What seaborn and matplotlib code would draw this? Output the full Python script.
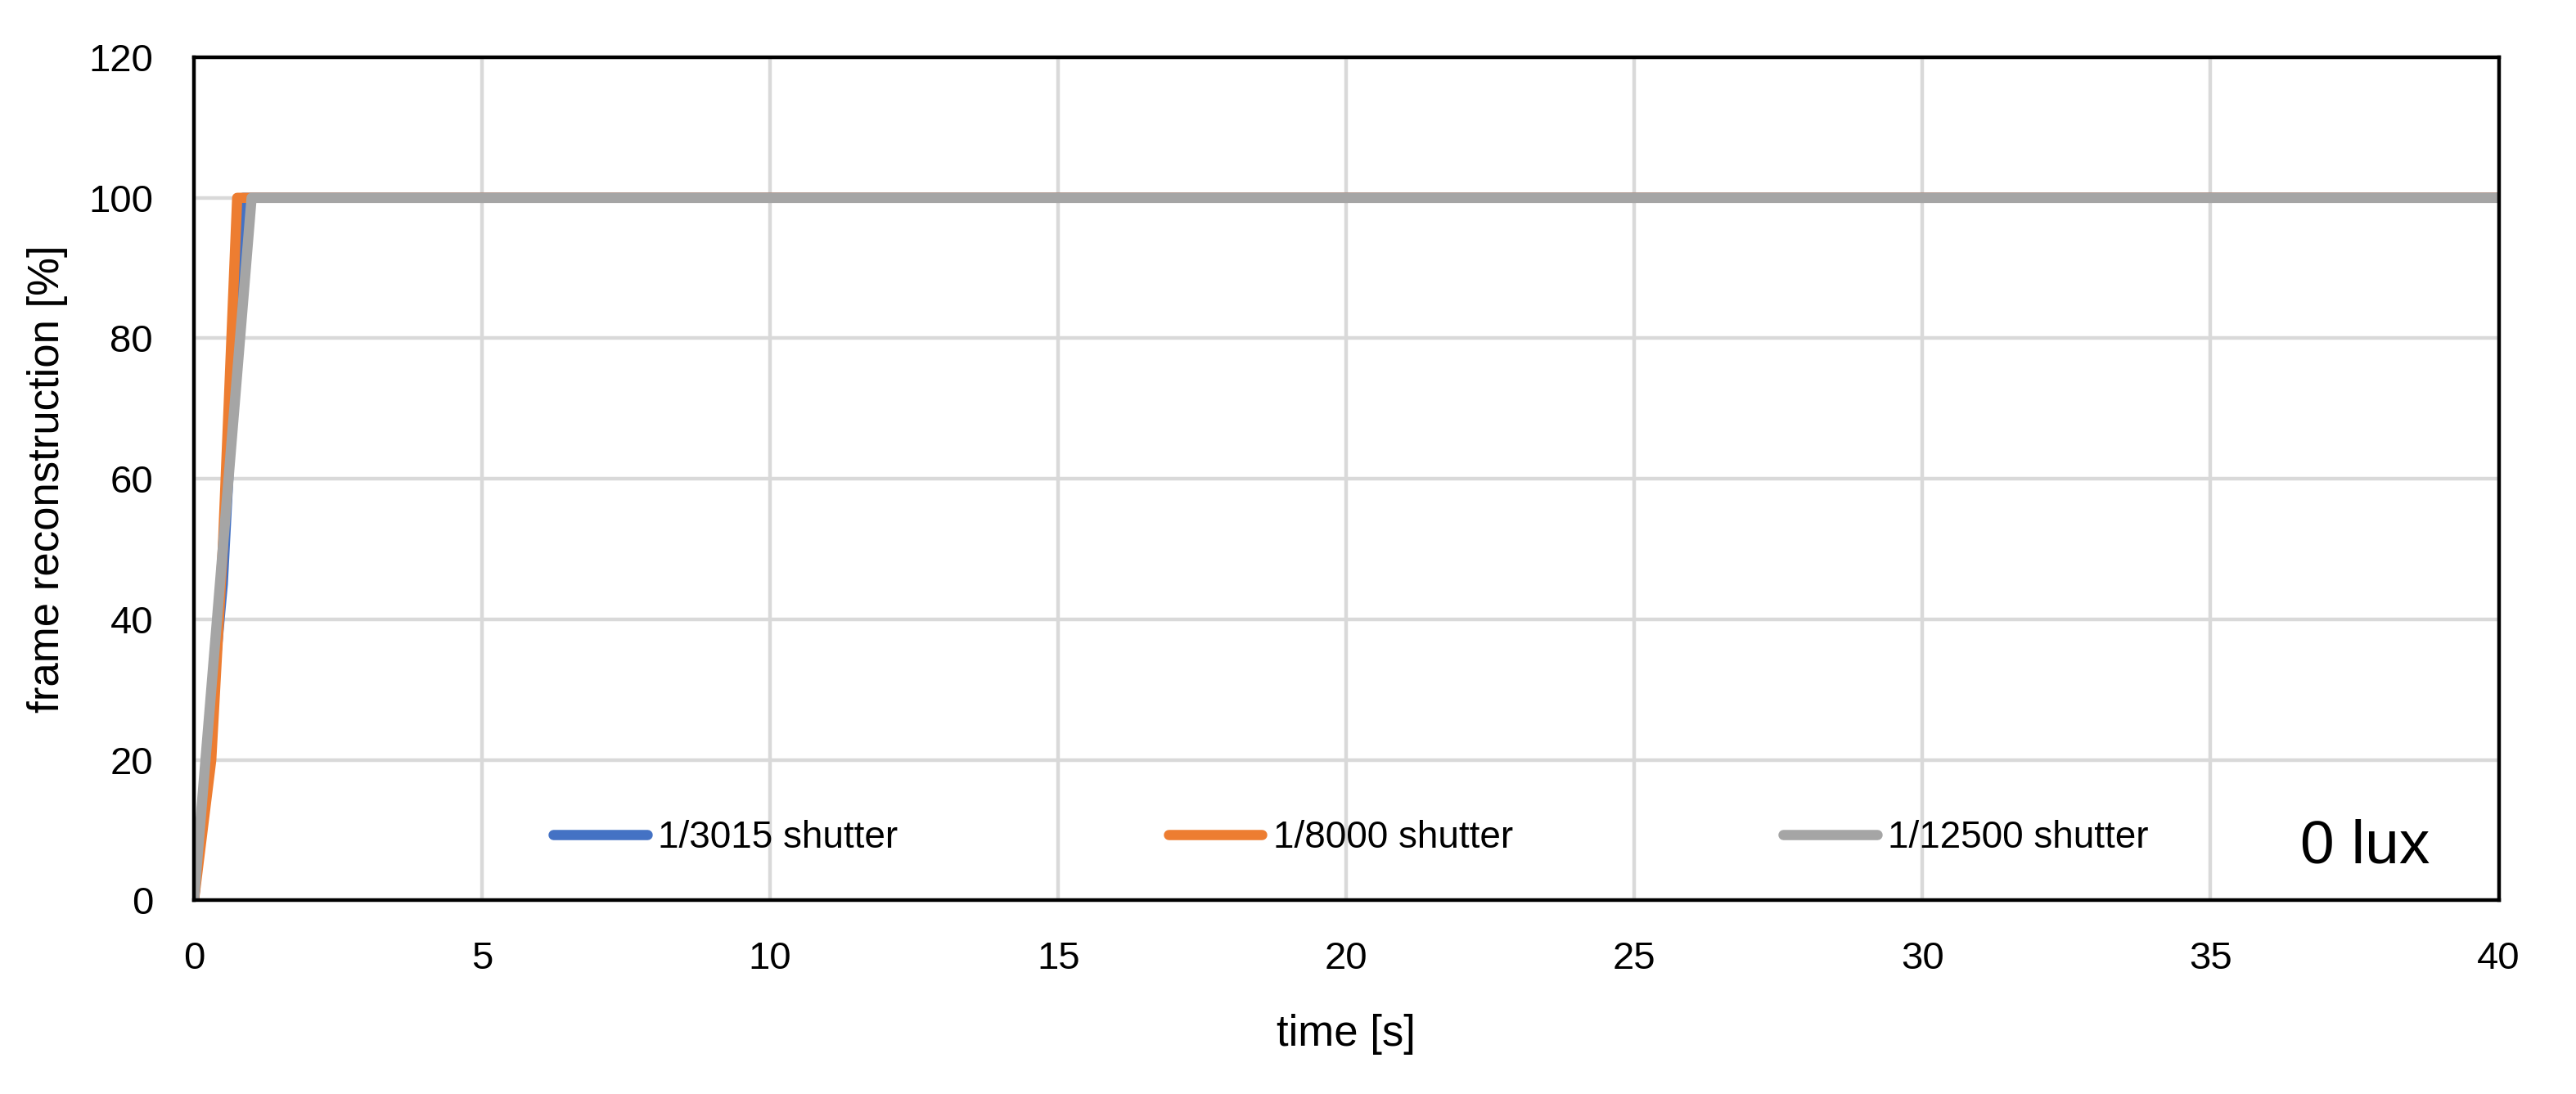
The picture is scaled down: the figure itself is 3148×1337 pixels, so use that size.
import pandas as pd
import matplotlib
matplotlib.use('Agg')
import matplotlib.pyplot as plt
import seaborn as sns

sns.set_style('white')
plt.rcParams['font.family'] = ['Liberation Sans', 'DejaVu Sans']
plt.rcParams['text.color'] = 'black'
plt.rcParams['axes.labelcolor'] = 'black'
plt.rcParams['xtick.color'] = 'black'
plt.rcParams['ytick.color'] = 'black'

# data
series_names = ['1/3015 shutter', '1/8000 shutter', '1/12500 shutter']
time_3015 = [0, 0.5, 0.85, 40]
rec_3015 = [0, 45, 100, 100]
time_8000 = [0, 0.3, 0.5, 0.75, 40]
rec_8000 = [0, 20, 50, 100, 100]
time_12500 = [0, 1.0, 40]
rec_12500 = [0, 100, 100]

colors = ['#4472C4', '#ED7D31', '#A5A5A5']

frames = []
for name, t, v in zip(series_names,
                      [time_3015, time_8000, time_12500],
                      [rec_3015, rec_8000, rec_12500]):
    frames.append(pd.DataFrame({'time': t, 'rec': v, 'series': name}))
df = pd.concat(frames, ignore_index=True)

fig = plt.figure(figsize=(15.74, 6.685), dpi=200)
ax = fig.add_axes([0.0753, 0.177, 0.8947, 0.7706])

sns.lineplot(data=df, x='time', y='rec', hue='series', hue_order=series_names,
             palette=colors, estimator=None, sort=False, linewidth=4.5, ax=ax)

ax.set_xlim(0, 40)
ax.set_ylim(0, 120)
ax.set_xticks(range(0, 41, 5))
ax.set_yticks(range(0, 121, 20))
ax.grid(True, color='#d9d9d9', linewidth=1.6)
ax.set_axisbelow(True)
for s in ax.spines.values():
    s.set_color('black')
    s.set_linewidth(1.6)
ax.tick_params(axis='both', length=0, labelsize=17)
ax.tick_params(axis='y', pad=18)
ax.tick_params(axis='x', pad=18)

ax.set_xlabel('time [s]', fontsize=19, labelpad=16)
ax.set_ylabel('frame reconstruction [%]', fontsize=19, labelpad=9)

leg = ax.legend(loc='center', bbox_to_anchor=(0.502, 0.074), ncol=3, frameon=False,
                fontsize=16.5, handlelength=2.5, handletextpad=0.3, columnspacing=7.2)
for line in leg.get_lines():
    line.set_linewidth(4.5)

ax.text(0.97, 0.063, '0 lux', transform=ax.transAxes, ha='right', va='center',
        fontsize=27)

fig.savefig('out.png', dpi=200)
